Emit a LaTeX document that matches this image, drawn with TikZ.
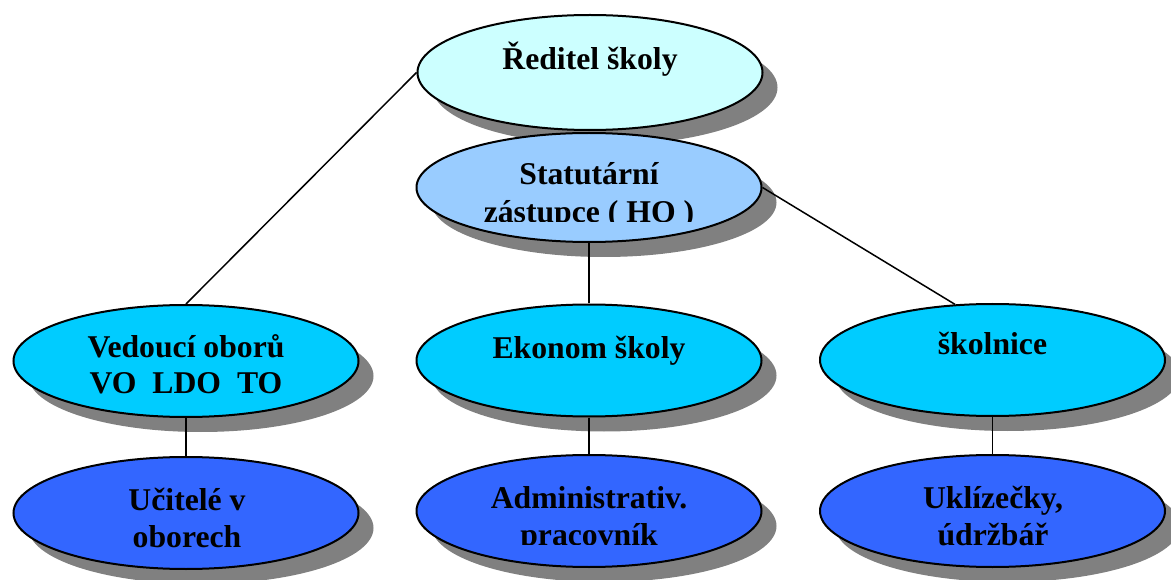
\documentclass[tikz,border=0pt]{standalone}
\usepackage{fontspec}
\setmainfont{Liberation Serif}
\usetikzlibrary{shapes.geometric,shadows}
\definecolor{cTop}{HTML}{CCFFFF}
\definecolor{cDep}{HTML}{99CCFF}
\definecolor{cMid}{HTML}{00CCFF}
\definecolor{cLow}{HTML}{3366FF}
\definecolor{cShadow}{HTML}{808080}
\tikzset{
  oval/.style={ellipse, draw=black, line width=2pt, inner sep=0pt,
    minimum width=345pt, minimum height=112pt,
    drop shadow={shadow xshift=15pt, shadow yshift=-15pt, fill=cShadow, opacity=1}},
  lbl/.style={anchor=base, inner sep=0pt, font=\bfseries\fontsize{31.7}{37}\selectfont},
  link/.style={draw=black, line width=1.5pt}
}
\begin{document}
\begin{tikzpicture}[x=1pt,y=-1pt]
\useasboundingbox (0,0) rectangle (1171,580);
% ellipses
\node[oval, fill=cTop, minimum height=115pt] (red) at (590,72.5) {};
\node[oval, fill=cDep, minimum height=109pt] (stat) at (589,187.5) {};
\node[oval, fill=cMid] (ved) at (186,361) {};
\node[oval, fill=cMid] (eko) at (589,360.5) {};
\node[oval, fill=cMid] (skol) at (992.5,360) {};
\node[oval, fill=cLow] (uc) at (186,513) {};
\node[oval, fill=cLow] (adm) at (589,511) {};
\node[oval, fill=cLow] (ukl) at (992.5,511) {};
% connectors
\draw[link] (red.west) -- (ved.north);
\draw[link] (stat.east) -- (skol.124);
\draw[link] (stat.south) -- (eko.north);
\draw[link] (ved.south) -- (uc.north);
\draw[link] (eko.south) -- (adm.north);
\draw[link] (skol.south) -- (ukl.north);
% texts
\node[lbl] (redT) at (590,70) {Ředitel školy};
\node[lbl] (statT1) at (589,185) {Statutární};
\begin{scope}
\clip (420,195) rectangle (760,221.5);
\node[lbl] (statT2) at (589,222.5) {zástupce ( HO )};
\end{scope}
\node[lbl] (vedT1) at (186,357) {Vedoucí oborů};
\node[lbl] (vedT2) at (186,393) {VO\ \ LDO\ \ TO};
\node[lbl] (ekoT) at (589,358) {Ekonom školy};
\node[lbl] (skolT) at (992.5,355) {školnice};
\node[lbl] (ucT1) at (187,510) {Učitelé v};
\node[lbl] (ucT2) at (187,547) {oborech};
\node[lbl] (admT1) at (589,508) {Administrativ.};
\begin{scope}
\clip (420,515) rectangle (760,544);
\node[lbl] (admT2) at (589,545.5) {pracovník};
\end{scope}
\node[lbl] (uklT1) at (993,508) {Uklízečky,};
\node[lbl] (uklT2) at (993,545) {údržbář};
\end{tikzpicture}
\end{document}
